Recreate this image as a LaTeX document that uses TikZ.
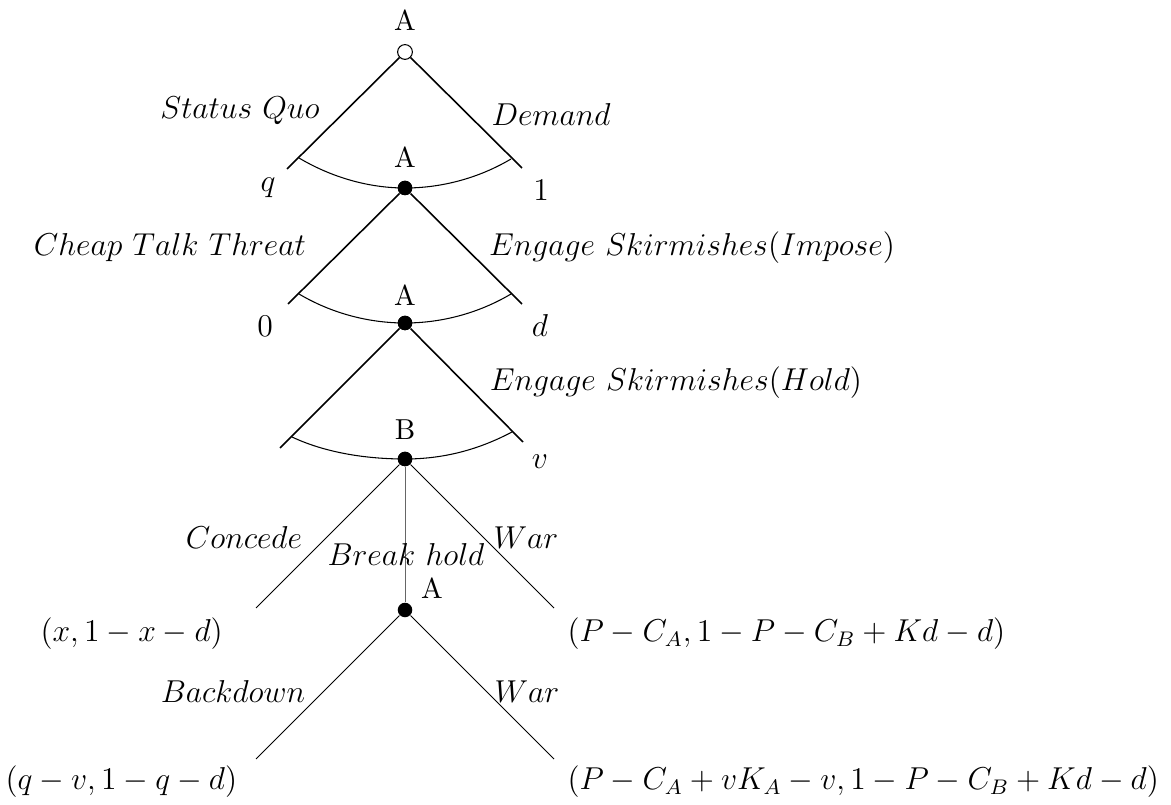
\documentclass[tikz,border=0pt,12pt]{standalone}
\begin{document}
\begin{tikzpicture}[x=0.379pt,y=-0.379pt,
  dot/.style={circle,fill=black,inner sep=0pt,minimum size=5.5pt},
  odot/.style={circle,draw=black,fill=white,line width=0.4pt,inner sep=0pt,minimum size=5.6pt},
  thickedge/.style={line width=0.6pt},
  thinedge/.style={line width=0.38pt},
  arcline/.style={line width=0.4pt},
  lbl/.style={inner sep=0pt,anchor=center},
  plbl/.style={inner sep=0pt,anchor=center,font=\small},
  wlbl/.style={inner sep=0pt,anchor=west}]
\useasboundingbox (0,0) rectangle (1171,805);
% decision nodes
\node[odot] (r) at (405,52) {};
\node[dot] (a1) at (405,188) {};
\node[dot] (a2) at (405,323) {};
\node[dot] (b) at (405,459) {};
\node[dot] (a3) at (405,610) {};
% branch ends
\coordinate (l1) at (287,169); \coordinate (r1) at (522,168);
\coordinate (la1) at (299,158); \coordinate (ra1) at (511,159);
\coordinate (l2) at (288,304); \coordinate (r2) at (522,304);
\coordinate (la2) at (299,294); \coordinate (ra2) at (511,294);
\coordinate (l3) at (280,448); \coordinate (r3) at (523,442);
\coordinate (la3) at (292,437); \coordinate (ra3) at (512,432);
\coordinate (c) at (256,608); \coordinate (w) at (554,608);
\coordinate (bd) at (256,759); \coordinate (w2) at (554,759);
% edges
\draw[thickedge] (r) -- (l1);
\draw[thickedge] (r) -- (r1);
\draw[thickedge] (a1) -- (l2);
\draw[thickedge] (a1) -- (r2);
\draw[thickedge] (a2) -- (l3);
\draw[thickedge] (a2) -- (r3);
\draw[thinedge] (b) -- (c);
\draw[thinedge] (b) -- (w);
\draw[thinedge,black!60] (b) -- (a3);
\draw[thinedge] (a3) -- (bd);
\draw[thinedge] (a3) -- (w2);
% information arcs
\draw[arcline] (la1) .. controls +(32,19) and +(-37,0) .. (a1.center)
                     .. controls +(37,0) and +(-32,19) .. (ra1);
\draw[arcline] (la2) .. controls +(32,19) and +(-37,0) .. (a2.center)
                     .. controls +(37,0) and +(-32,19) .. (ra2);
\draw[arcline] (la3) .. controls +(34,16) and +(-38,0) .. (b.center)
                     .. controls +(38,0) and +(-34,18) .. (ra3);
\node[dot] at (a1) {};
\node[dot] at (a2) {};
\node[dot] at (b) {};
% player labels
\node[plbl] (tA0) at (405,20) {A};
\node[plbl] (tA1) at (405,157) {A};
\node[plbl] (tA2) at (405,295) {A};
\node[plbl] (tB) at (405,430) {B};
\node[plbl] (tA3) at (432,588) {A};
% move labels
\node[lbl] (sq) at (240,111) {$Status\ Quo$};
\node[lbl] (dm) at (551,115) {$Demand$};
\node[lbl] (ct) at (170,248) {$Cheap\ Talk\ Threat$};
\node[lbl] (ei) at (692,248) {$Engage\ Skirmishes(Impose)$};
\node[lbl] (eh) at (676,383) {$Engage\ Skirmishes(Hold)$};
\node[lbl] (cc) at (244,538) {$Concede$};
\node[lbl] (bh) at (406,555) {$Break\ hold$};
\node[lbl] (wr) at (526,538) {$War$};
\node[lbl] (bk) at (233,692) {$Backdown$};
\node[lbl] (wr2) at (527,692) {$War$};
% values
\node[lbl] (vq) at (268,188) {$q$};
\node[lbl] (v1) at (541,190) {$1$};
\node[lbl] (v0) at (265,326) {$0$};
\node[lbl] (vd) at (540,326) {$d$};
\node[lbl] (vv) at (540,462) {$v$};
% payoffs
\node[wlbl] (p1) at (40,634) {$(x,1-x-d)$};
\node[wlbl] (p2) at (567,634) {$(P-C_A,1-P-C_B+Kd-d)$};
\node[wlbl] (p3) at (5,782) {$(q-v,1-q-d)$};
\node[wlbl] (p4) at (567,782) {$(P-C_A+vK_A-v,1-P-C_B+Kd-d)$};
\end{tikzpicture}
\end{document}
